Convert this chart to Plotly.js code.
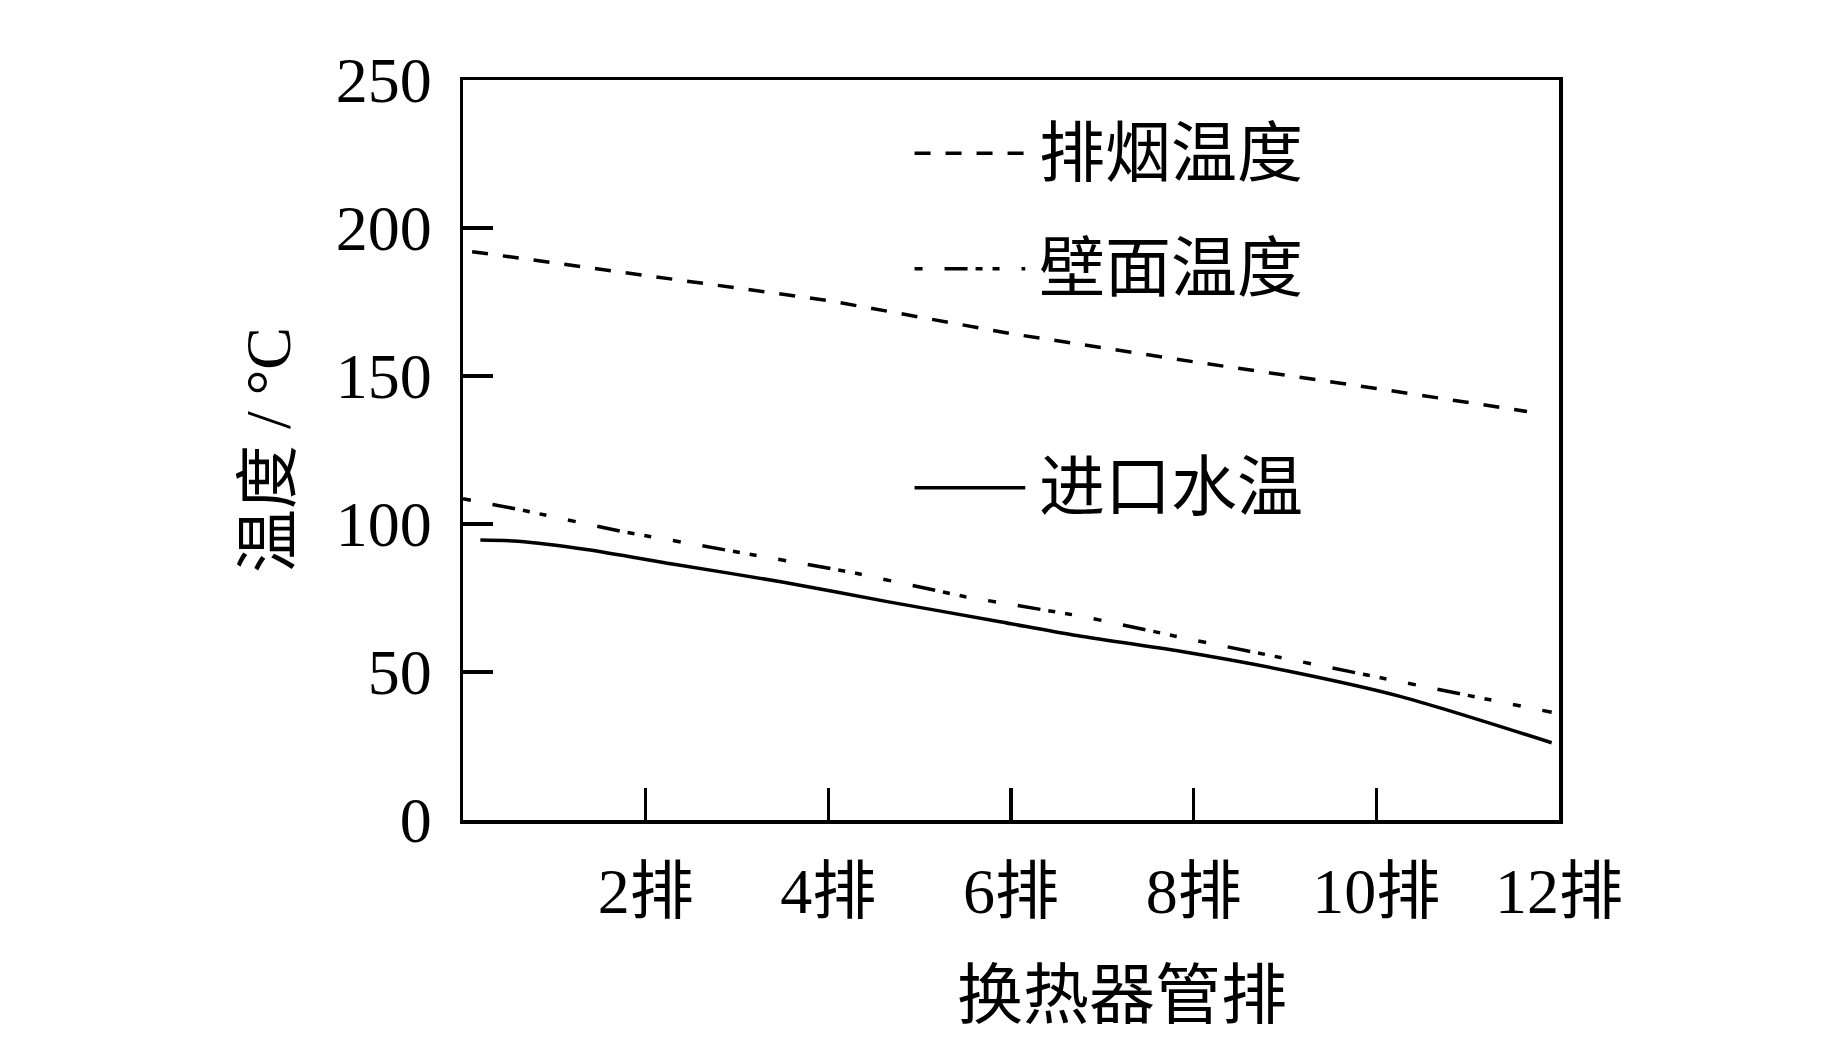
<!DOCTYPE html>
<html>
<head>
<meta charset="utf-8">
<script src="https://cdn.plot.ly/plotly-3.0.1.min.js"></script>
<style>
  html, body { margin: 0; padding: 0; background: #ffffff; }
  #chart { width: 1843px; height: 1063px; }
</style>
</head>
<body>
<div id="chart"></div>
<script>
/* Temperature along heat-exchanger tube rows: flue gas, wall, inlet water */

// x positions (tube row index)
const flueX  = [0.1, 2.0, 4.0, 6.0, 8.0, 10.0, 11.65];
const flueY  = [192, 184, 175.5, 164.3, 154.8, 145.8, 138];

const wallX  = [0.0, 0.6, 1.75, 3.0, 4.25, 5.5, 6.8, 8.0, 9.27, 10.54, 11.92];
const wallY  = [108.5, 105, 97.4, 90.6, 83.7, 75.4, 68.7, 60.8, 52.9, 45, 36.4];

const waterX = [0.19, 0.6, 1.35, 2.31, 3.48, 4.66, 5.88, 6.68, 7.87, 9.07, 10.27, 11.92];
const waterY = [94.6, 94.2, 91.4, 86.4, 80.5, 73.7, 67.0, 62.5, 56.9, 50.1, 41.7, 26.1];

const seriesNames = ['排烟温度', '壁面温度', '进口水温'];

const xTickVals = [2, 4, 6, 8, 10, 12];
const xTickText = ['2排', '4排', '6排', '8排', '10排', '12排'];
const yTickVals = [0, 50, 100, 150, 200, 250];

const FONT = "'Liberation Serif', 'Times New Roman', 'Noto Sans CJK SC', serif";
const INK = '#000000';
const LW = 3.5;

const DASH_FLUE = '16px,15px';
const DASH_WALL = '8px,22px,23px,8px,7px,10px,7px,22px';

const traces = [
  {
    type: 'scatter', mode: 'lines', name: seriesNames[0],
    x: flueX, y: flueY,
    line: { color: INK, width: LW, dash: DASH_FLUE },
  },
  {
    type: 'scatter', mode: 'lines', name: seriesNames[1],
    x: wallX, y: wallY,
    line: { color: INK, width: LW, dash: DASH_WALL },
  },
  {
    type: 'scatter', mode: 'lines', name: seriesNames[2],
    x: waterX, y: waterY,
    line: { color: INK, width: LW, shape: 'spline', smoothing: 0.8 },
  },
];

/* ── Hand-placed legend (rows are unevenly spaced in the original) ──────── */

const legendRows = [
  { y: 0.901, dash: DASH_FLUE },
  { y: 0.745, dash: DASH_WALL },
  { y: 0.449, dash: 'solid' },
];

const shapes = legendRows.map(r => ({
  type: 'line', xref: 'paper', yref: 'paper',
  x0: 0.412, x1: 0.513, y0: r.y, y1: r.y,
  line: { color: INK, width: LW, dash: r.dash },
}));

const annotations = legendRows.map((r, i) => ({
  xref: 'paper', yref: 'paper', x: 0.524, y: r.y,
  xanchor: 'left', yanchor: 'middle', showarrow: false,
  text: seriesNames[i],
  font: { family: FONT, size: 66, color: INK },
}));

// x title sits right of the plot centre in the original
annotations.push({
  xref: 'paper', yref: 'paper', x: 0.601, y: -0.237,
  xanchor: 'center', yanchor: 'middle', showarrow: false,
  text: '换热器管排',
  font: { family: FONT, size: 66, color: INK },
});

const layout = {
  width: 1843,
  height: 1063,
  paper_bgcolor: '#ffffff',
  plot_bgcolor: '#ffffff',
  showlegend: false,
  margin: { l: 463, r: 284, t: 80, b: 243 },
  font: { family: FONT, size: 64, color: INK },
  xaxis: {
    range: [0, 12],
    tickvals: xTickVals,
    ticktext: xTickText,
    ticks: 'inside',
    ticklen: 32,
    tickwidth: LW,
    tickcolor: INK,
    ticklabelstandoff: 13,
    showline: true,
    linewidth: LW,
    linecolor: INK,
    mirror: true,
    showgrid: false,
    zeroline: false,
    tickfont: { family: FONT, size: 64, color: INK },
  },
  yaxis: {
    range: [0, 250],
    tickvals: yTickVals,
    ticks: 'inside',
    ticklen: 30,
    tickwidth: LW,
    tickcolor: INK,
    ticklabelstandoff: 15,
    showline: true,
    linewidth: LW,
    linecolor: INK,
    mirror: true,
    showgrid: false,
    zeroline: false,
    tickfont: { family: FONT, size: 64, color: INK },
    title: {
      text: '温度 / °C',
      standoff: 25,
      font: { family: FONT, size: 64, color: INK },
    },
  },
  shapes: shapes,
  annotations: annotations,
};

Plotly.newPlot('chart', traces, layout, { staticPlot: true, displayModeBar: false });
</script>
</body>
</html>
